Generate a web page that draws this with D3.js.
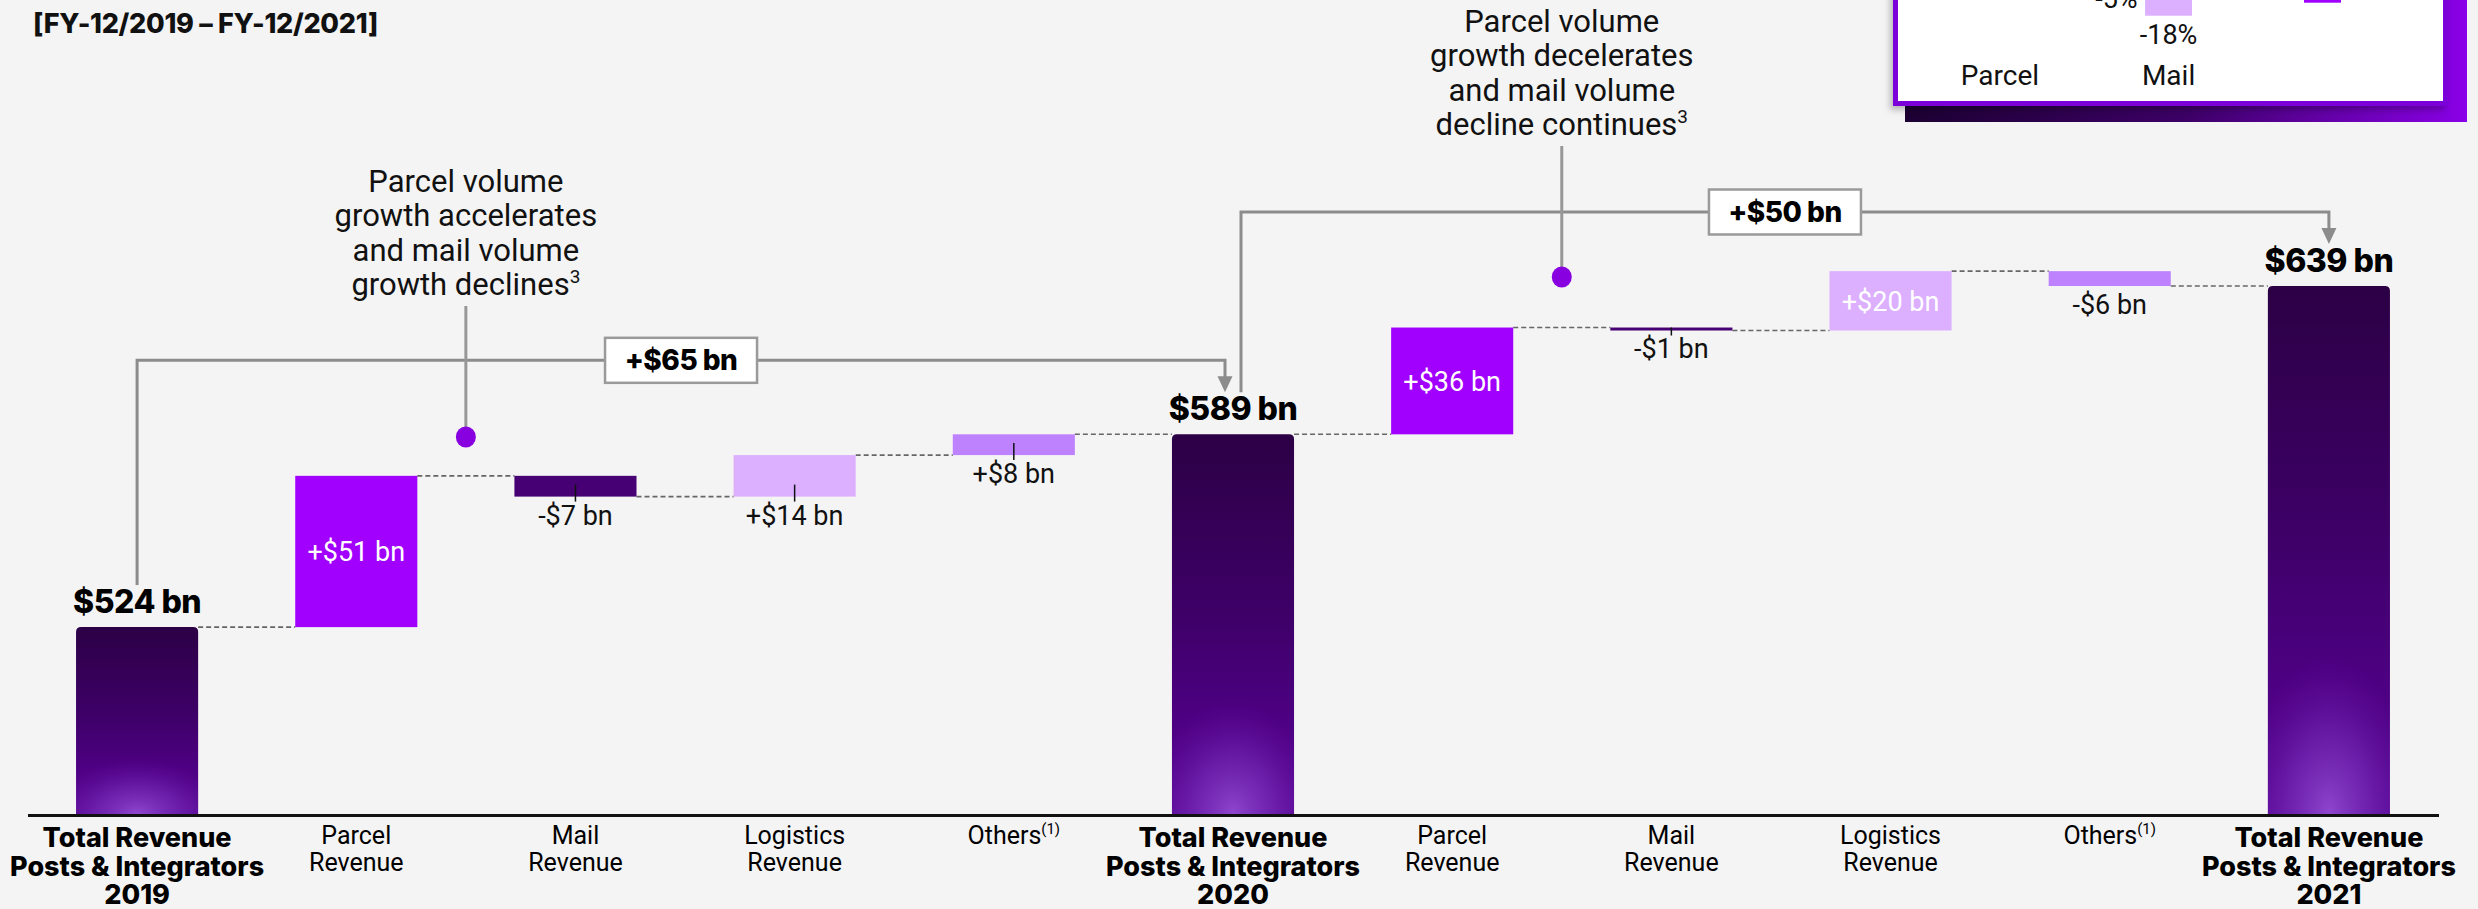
<!DOCTYPE html>
<html>
<head>
<meta charset="utf-8">
<script src="https://cdn.jsdelivr.net/npm/d3@7"></script>
<style>
  body { margin: 0; background: #f4f4f4; }
  svg { display: block; }
</style>
</head>
<body>
<svg id="chart" width="2478" height="909"></svg>
<script>
// NOTE: chart data
const categoryLines = [
  ['Total Revenue', 'Posts & Integrators', '2019'],
  ['Parcel', 'Revenue'],
  ['Mail', 'Revenue'],
  ['Logistics', 'Revenue'],
  ['Others'],
  ['Total Revenue', 'Posts & Integrators', '2020'],
  ['Parcel', 'Revenue'],
  ['Mail', 'Revenue'],
  ['Logistics', 'Revenue'],
  ['Others'],
  ['Total Revenue', 'Posts & Integrators', '2021'],
]
const categoryNotes = ['', '', '', '', '(1)', '', '', '', '', '(1)', '']
const barKinds = ['total', 'parcel', 'mail', 'logistics', 'others', 'total', 'parcel', 'mail', 'logistics', 'others', 'total']
const barValues = [524, 51, -7, 14, 8, 589, 36, -1, 20, -6, 639]
const valueLabels = ['$524 bn', '+$51 bn', '-$7 bn', '+$14 bn', '+$8 bn', '$589 bn', '+$36 bn', '-$1 bn', '+$20 bn', '-$6 bn', '$639 bn']
const labelPlacement = ['top', 'inside', 'below', 'below', 'below', 'top', 'inside', 'below', 'inside', 'below', 'top']
const labelTicks = [false, false, true, true, true, false, false, true, false, false, false]

const bridgeFrom = [0, 5]
const bridgeTo = [5, 10]
const bridgeLabels = ['+$65 bn', '+$50 bn']

const noteAfter = [1, 6]
const noteDotY = [437, 277]
const noteLines = [
  ['Parcel volume', 'growth accelerates', 'and mail volume', 'growth declines'],
  ['Parcel volume', 'growth decelerates', 'and mail volume', 'decline continues'],
]
const noteMarks = ['3', '3']

const legendCats = ['Parcel', 'Mail']
const legendMailValues = [-5, -18]
const legendMailLabels = ['-5%', '-18%']

const title = '[FY-12/2019 – FY-12/2021]'

// NOTE: styles
const REG = 'Roboto, "Open Sans", sans-serif'
const BOLD = 'Inter, Roboto, sans-serif'
const colors = { parcel: '#a100ff', mail: '#460073', logistics: '#dcafff', others: '#be82ff' }
const GREY = '#8c8c8c'

const svg = d3.select('#chart')
const defs = svg.append('defs')

const x = d3.scaleBand().domain(d3.range(barValues.length))
  .range([27.5, 2438.5]).paddingInner(0.443).paddingOuter(0.2215)
const y = d3.scaleLinear().domain([461, 639]).range([814, 286])
const bw = x.bandwidth()
const cx = i => x(i) + bw / 2

// NOTE: gradients for total bars
const lin = defs.append('linearGradient').attr('id', 'totalFill')
  .attr('x1', 0).attr('y1', 0).attr('x2', 0).attr('y2', 1)
;[[0, '#2c0045'], [0.45, '#3d0066'], [0.75, '#4d0082'], [1, '#5a0a94']].forEach(([o, c]) =>
  lin.append('stop').attr('offset', o).attr('stop-color', c))
const rad = defs.append('radialGradient').attr('id', 'totalGlow')
  .attr('cx', 0.5).attr('cy', 1).attr('r', 0.5)
  .attr('gradientTransform', 'translate(0.5,1) scale(1.4,0.6) translate(-0.5,-1)')
;[[0, '#9d55dc', 0.8], [0.5, '#8238c8', 0.45], [1, '#6a10b0', 0]].forEach(([o, c, a]) =>
  rad.append('stop').attr('offset', o).attr('stop-color', c).attr('stop-opacity', a))
const shade = defs.append('linearGradient').attr('id', 'legendShade')
;[[0, '#1c0032'], [0.5, '#3c0066'], [1, '#8a00e8']].forEach(([o, c]) =>
  shade.append('stop').attr('offset', o).attr('stop-color', c))
defs.append('filter').attr('id', 'soft').attr('x', -0.1).attr('y', -0.1).attr('width', 1.2).attr('height', 1.3)
  .append('feDropShadow').attr('dx', -3).attr('dy', 4).attr('stdDeviation', 3)
  .attr('flood-color', '#000').attr('flood-opacity', 0.25)

// NOTE: waterfall steps, last delta of a block closes on the next total
const steps = []
let running = 0
barValues.forEach((v, i) => {
  const kind = barKinds[i]
  if (kind === 'total') {
    steps.push({ i, kind, start: y.domain()[0], end: v })
    running = v
    return
  }
  const end = barKinds[i + 1] === 'total' ? barValues[i + 1] : running + v
  steps.push({ i, kind, start: running, end })
  running = end
})

// NOTE: title (top line is cut off in the source)
svg.append('text').attr('x', 33).attr('y', 33)
  .attr('font-family', BOLD).attr('font-weight', 800).attr('font-size', 27)
  .attr('letter-spacing', -0.3).attr('fill', '#111').text(title)

// NOTE: legend panel, clipped at the top edge
const lg = svg.append('g').attr('class', 'legend')
lg.append('rect').attr('x', 1905).attr('y', -20).attr('width', 562).attr('height', 142)
  .attr('fill', 'url(#legendShade)')
lg.append('rect').attr('x', 1895.5).attr('y', -20).attr('width', 550).attr('height', 123.5)
  .attr('fill', '#fff').attr('stroke', '#7c00d8').attr('stroke-width', 5).attr('filter', 'url(#soft)')
const ly = d3.scaleLinear().domain([0, -18]).range([-34, 15.7])
const lx = d3.scaleBand().domain(legendMailValues.map((d, i) => i)).range([2093, 2192]).paddingInner(0.1)
lg.selectAll('rect.lbar').data(legendMailValues).join('rect').attr('class', 'lbar')
  .attr('x', (d, i) => lx(i)).attr('width', lx.bandwidth())
  .attr('y', ly(0)).attr('height', d => ly(d) - ly(0))
  .attr('fill', (d, i) => i === 0 ? colors.others : colors.logistics)
lg.selectAll('text.lval').data(legendMailLabels).join('text').attr('class', 'lval')
  .attr('x', (d, i) => lx(i) + lx.bandwidth() / 2)
  .attr('y', (d, i) => ly(legendMailValues[i]) + 28)
  .attr('text-anchor', 'middle').attr('font-family', REG).attr('font-size', 27).attr('fill', '#111')
  .text(d => d)
lg.append('rect').attr('x', 2304).attr('y', -30).attr('width', 37).attr('height', 32.7).attr('fill', colors.parcel)
lg.selectAll('text.lcat').data(legendCats).join('text').attr('class', 'lcat')
  .attr('x', (d, i) => i === 0 ? 2000 : lx(1) + lx.bandwidth() / 2).attr('y', 85)
  .attr('text-anchor', 'middle').attr('font-family', REG).attr('font-size', 28).attr('fill', '#111')
  .text(d => d)

// NOTE: baseline axis
svg.append('g').attr('transform', 'translate(0,815)')
  .call(d3.axisBottom(x).tickSize(0).tickSizeOuter(0).tickFormat(''))
  .call(g => g.select('.domain').attr('stroke', '#111').attr('stroke-width', 3))

// NOTE: dashed connectors between bars
steps.slice(0, -1).forEach((s, i) => {
  svg.append('line')
    .attr('x1', x(i) + bw).attr('x2', x(i + 1))
    .attr('y1', y(s.end)).attr('y2', y(s.end))
    .attr('stroke', '#666').attr('stroke-width', 1.6).attr('stroke-dasharray', '5,3')
})

// NOTE: bars
const topRounded = (x0, y0, w, h, r) =>
  `M${x0},${y0 + h}V${y0 + r}Q${x0},${y0} ${x0 + r},${y0}H${x0 + w - r}Q${x0 + w},${y0} ${x0 + w},${y0 + r}V${y0 + h}Z`
steps.forEach(s => {
  const top = y(Math.max(s.start, s.end))
  const bot = y(Math.min(s.start, s.end))
  if (s.kind === 'total') {
    const d = topRounded(x(s.i), top, bw, bot - top, 5)
    svg.append('path').attr('d', d).attr('fill', 'url(#totalFill)')
    svg.append('path').attr('d', d).attr('fill', 'url(#totalGlow)')
  } else {
    svg.append('rect').attr('x', x(s.i)).attr('width', bw)
      .attr('y', top).attr('height', Math.max(bot - top, 2.5))
      .attr('fill', colors[s.kind])
  }
})

// NOTE: value labels
steps.forEach(s => {
  const top = y(Math.max(s.start, s.end))
  const bot = Math.max(y(Math.min(s.start, s.end)), top + 2.5)
  const place = labelPlacement[s.i]
  const t = svg.append('text').attr('x', cx(s.i)).attr('text-anchor', 'middle').text(valueLabels[s.i])
  if (place === 'top') {
    t.attr('y', top - 14).attr('font-family', BOLD).attr('font-weight', 800)
      .attr('font-size', 32).attr('letter-spacing', -0.5).attr('fill', '#000')
  } else if (place === 'inside') {
    t.attr('y', (top + bot) / 2).attr('dy', '0.36em').attr('font-family', REG)
      .attr('font-size', 27).attr('fill', '#fff')
  } else {
    t.attr('y', bot + 28).attr('font-family', REG).attr('font-size', 27).attr('fill', '#111')
    if (labelTicks[s.i]) {
      svg.append('line').attr('x1', cx(s.i)).attr('x2', cx(s.i))
        .attr('y1', Math.max(top, bot - 12)).attr('y2', bot + 5)
        .attr('stroke', '#111').attr('stroke-width', 1.5)
    }
  }
})

// NOTE: category labels
categoryLines.forEach((lines, i) => {
  const isTotal = barKinds[i] === 'total'
  const t = svg.append('text').attr('text-anchor', 'middle').attr('fill', '#000')
    .attr('font-family', isTotal ? BOLD : REG)
    .attr('font-weight', isTotal ? 800 : 400)
    .attr('font-size', isTotal ? 27 : 25)
  lines.forEach((line, k) => {
    t.append('tspan').attr('x', cx(i))
      .attr('y', isTotal ? 847 + k * 28.5 : 844 + k * 26.7).text(line)
    if (k === lines.length - 1 && categoryNotes[i]) {
      t.append('tspan').attr('font-size', 15).attr('dy', -10).text(categoryNotes[i])
    }
  })
})

// NOTE: bridge brackets between totals
const tipY = i => y(barValues[i]) - 42
bridgeFrom.forEach((f, k) => {
  const to = bridgeTo[k]
  const fx = cx(f) + (bridgeTo.includes(f) ? 8 : 0)
  const tx = cx(to) - (bridgeFrom.includes(to) ? 8 : 0)
  const hy = Math.min(tipY(f), tipY(to)) - 32
  svg.append('path')
    .attr('d', `M${fx},${tipY(f)}V${hy}H${tx}V${tipY(to) - 15}`)
    .attr('fill', 'none').attr('stroke', GREY).attr('stroke-width', 3)
  svg.append('path')
    .attr('d', `M${tx - 7.5},${tipY(to) - 16}L${tx + 7.5},${tipY(to) - 16}L${tx},${tipY(to)}Z`)
    .attr('fill', GREY)
  const mx = (fx + tx) / 2
  svg.append('rect').attr('x', mx - 76).attr('y', hy - 22.5).attr('width', 152).attr('height', 45)
    .attr('fill', '#fff').attr('stroke', '#9a9a9a').attr('stroke-width', 2.5)
  svg.append('text').attr('x', mx).attr('y', hy).attr('dy', '0.36em').attr('text-anchor', 'middle')
    .attr('font-family', BOLD).attr('font-weight', 800).attr('font-size', 28)
    .attr('letter-spacing', -0.5).attr('fill', '#000').text(bridgeLabels[k])
})

// NOTE: call-out annotations
noteAfter.forEach((a, k) => {
  const nx = (cx(a) + cx(a + 1)) / 2
  const dotY = noteDotY[k]
  const lastBase = dotY - 142
  const lines = noteLines[k]
  svg.append('line').attr('x1', nx).attr('x2', nx).attr('y1', lastBase + 11).attr('y2', dotY)
    .attr('stroke', '#979797').attr('stroke-width', 3)
  svg.append('ellipse').attr('cx', nx).attr('cy', dotY).attr('rx', 10).attr('ry', 10.5).attr('fill', '#8800e0')
  const t = svg.append('text').attr('text-anchor', 'middle').attr('font-family', REG)
    .attr('font-size', 31).attr('fill', '#111')
  lines.forEach((line, j) => {
    const ts = t.append('tspan').attr('x', nx)
      .attr('y', lastBase - (lines.length - 1 - j) * 34.5).text(line)
    if (j === lines.length - 1) {
      ts.append('tspan').attr('font-size', 19).attr('dy', -12).text(noteMarks[k])
    }
  })
})
</script>
</body>
</html>
